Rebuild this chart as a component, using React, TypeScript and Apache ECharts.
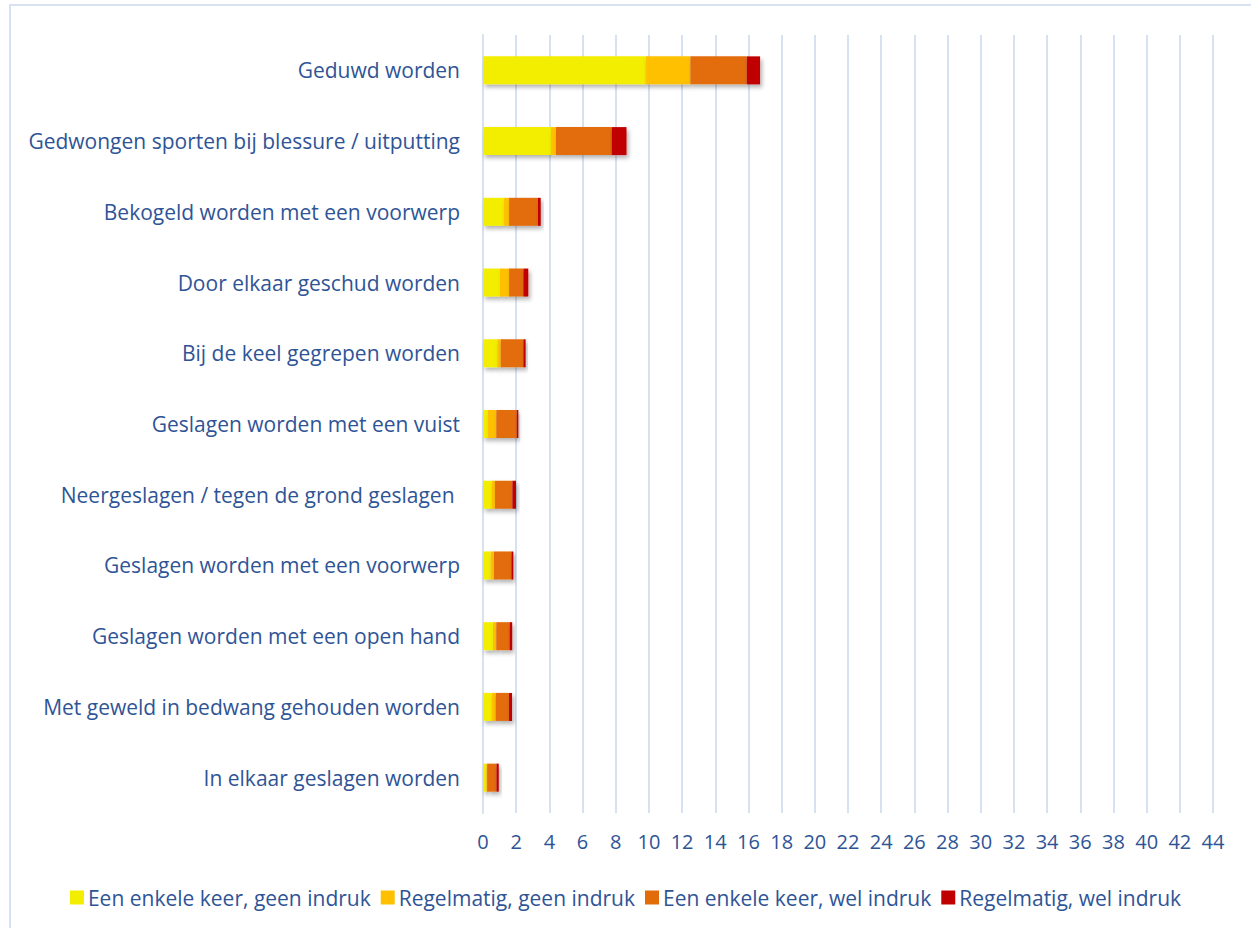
import React, { useEffect, useRef } from "react";
import * as echarts from "echarts";

const categories = [
  "Geduwd worden",
  "Gedwongen sporten bij blessure / uitputting",
  "Bekogeld worden met een voorwerp",
  "Door elkaar geschud worden",
  "Bij de keel gegrepen worden",
  "Geslagen worden met een vuist",
  "Neergeslagen / tegen de grond geslagen ",
  "Geslagen worden met een voorwerp",
  "Geslagen worden met een open hand",
  "Met geweld in bedwang gehouden worden",
  "In elkaar geslagen worden",
];

const seriesNames = [
  "Een enkele keer, geen indruk",
  "Regelmatig, geen indruk",
  "Een enkele keer, wel indruk",
  "Regelmatig, wel indruk",
];

const enkelGeen = [9.8, 4.1, 1.27, 1.02, 0.87, 0.3, 0.52, 0.46, 0.6, 0.52, 0.2];
const regelGeen = [2.7, 0.3, 0.3, 0.55, 0.2, 0.5, 0.2, 0.2, 0.2, 0.24, 0.05];
const enkelWel = [3.4, 3.35, 1.74, 0.86, 1.36, 1.23, 1.05, 1.05, 0.8, 0.81, 0.56];
const regelWel = [0.8, 0.9, 0.17, 0.3, 0.14, 0.1, 0.22, 0.12, 0.16, 0.18, 0.14];

const colors = ["#F3EE00", "#FFC000", "#E36C0A", "#C00000"];
const xMin = 0;
const xMax = 44;
const xInterval = 2;

export default function App() {
  const ref = useRef<HTMLDivElement>(null);
  useEffect(() => {
    if (!ref.current) return;
    const chart = echarts.init(ref.current, undefined, { renderer: "svg" });
    const font = "'Open Sans', 'Noto Sans', sans-serif";
    const textColor = "#2F5496";
    const gridColor = "#D6E1F2";
    const data = [enkelGeen, regelGeen, enkelWel, regelWel];
    chart.setOption({
      animation: false,
      textStyle: { fontFamily: font },
      graphic: [
        {
          type: "rect",
          shape: { x: 10, y: 5, width: 1400, height: 1100 },
          style: { fill: "none", stroke: gridColor, lineWidth: 2 },
          silent: true,
        },
      ],
      grid: { left: 483, right: 38, top: 35, bottom: 115, containLabel: false },
      xAxis: {
        type: "value",
        min: xMin,
        max: xMax,
        interval: xInterval,
        axisLine: { show: false },
        axisTick: { show: false },
        splitLine: { show: true, lineStyle: { color: gridColor, width: 2 } },
        axisLabel: { color: textColor, fontSize: 20, fontFamily: font, margin: 18 },
      },
      yAxis: {
        type: "category",
        inverse: true,
        data: categories,
        axisLine: { show: true, lineStyle: { color: gridColor, width: 2 } },
        axisTick: { show: false },
        axisLabel: { color: textColor, fontSize: 21, fontFamily: font, margin: 23 },
      },
      legend: {
        bottom: 15,
        left: "center",
        itemWidth: 14,
        itemHeight: 14,
        itemGap: 10,
        icon: "rect",
        textStyle: { color: textColor, fontSize: 21, fontFamily: font, padding: [0, 0, 0, -1] },
        data: seriesNames,
      },
      series: seriesNames.map((name, i) => ({
        name,
        type: "bar",
        stack: "total",
        barWidth: 28,
        data: data[i],
        itemStyle: {
          color: colors[i],
          shadowColor: "rgba(0,0,0,0.3)",
          shadowBlur: 4,
          shadowOffsetX: 2,
          shadowOffsetY: 3,
        },
      })),
    });
    return () => chart.dispose();
  }, []);
  return (
    <div
      ref={ref}
      style={{ position: "fixed", left: 0, top: 0, width: 1251, height: 928, background: "#fff" }}
    />
  );
}
